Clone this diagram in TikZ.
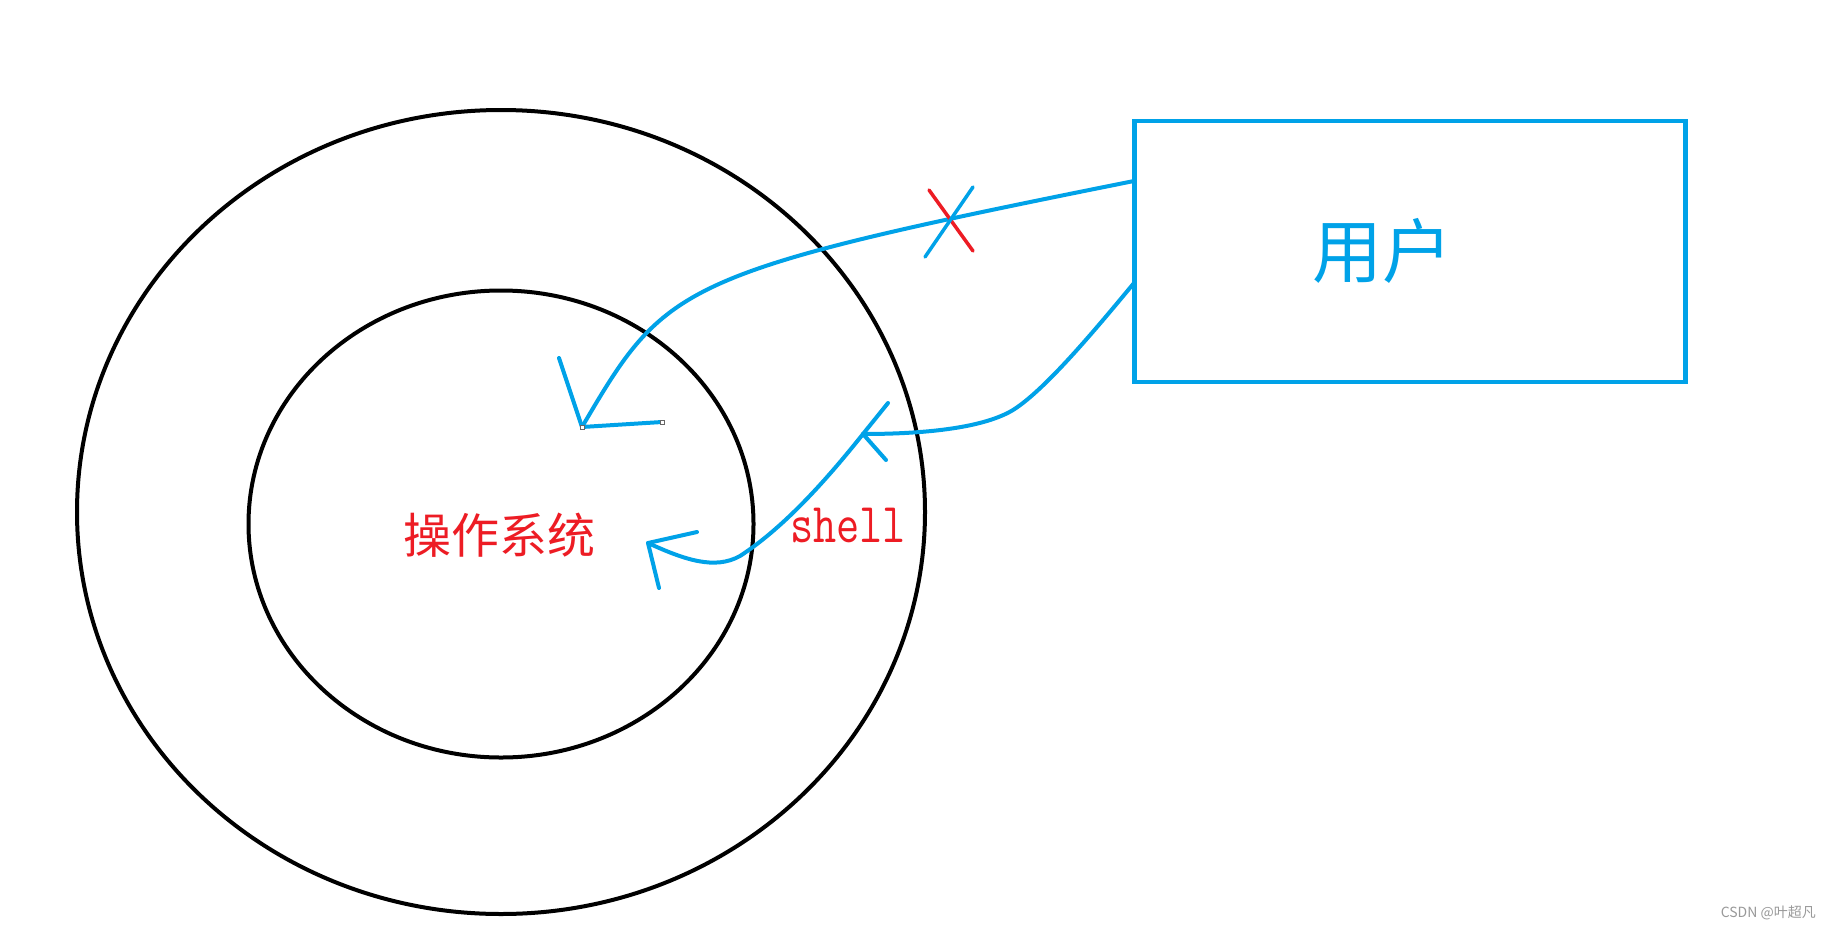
\documentclass[tikz,border=0pt]{standalone}
\usepackage{fontspec}
\newfontfamily\cjk{Noto Sans CJK SC}
\usetikzlibrary{shapes.geometric}
\definecolor{pblue}{HTML}{00A2E8}
\definecolor{pred}{HTML}{ED1C24}
\definecolor{wmgray}{HTML}{999999}
\begin{document}
\begin{tikzpicture}[x=1pt,y=-1pt,
  ring/.style={draw=black, line width=4pt, ellipse, inner sep=0pt},
  wire/.style={draw=pblue, line width=4pt, line cap=round, line join=round},
  handle/.style={draw=gray!80!black, fill=white, line width=0.8pt, minimum size=4pt, inner sep=0pt}
]
\useasboundingbox[fill=white] (0,0) rectangle (1830,929);
% rings
\node[ring, minimum width=848pt, minimum height=804pt] (outer) at (501,512) {};
\node[ring, minimum width=505pt, minimum height=467pt] (inner) at (501,524) {};
% user box
\node[draw=pblue, line width=4.5pt, minimum width=551pt, minimum height=261pt, inner sep=0pt] (user) at (1410,251.5) {};
\node[text=pblue, font=\cjk\fontsize{70}{80}\selectfont] (userlabel) at (1382,251) {用户};
% labels
\node[text=pred, font=\cjk\fontsize{48}{56}\selectfont] (os) at (499,535) {操作系统};
\node[text=pred, anchor=base west, font=\ttfamily\fontsize{45}{50}\selectfont, inner sep=0pt] (shell) at (790,542) {\scalebox{1}[1.25]{shell}};
% coordinates
\coordinate (u1) at (1134,181);
\coordinate (u2) at (1134,283);
\coordinate (t1) at (582,427);
\coordinate (t2) at (863,434);
\coordinate (t3) at (648,543);
\coordinate (m2) at (1013,410);
\coordinate (m3) at (740,556);
% upper (blocked) path
\draw[wire] (u1) .. controls (674,273) and (666,284) .. (t1);
\draw[wire] (559,358) -- (t1) -- (662,422);
\node[handle] (h1) at (t1) {};
\node[handle] (h2) at (662,422) {};
% cross mark
\draw[pred, line width=3.5pt, line cap=round] (929,190) -- (973,251);
\draw[wire, line width=3.5pt] (925,257) -- (973,187);
% lower path via shell
\draw[wire] (u2) .. controls (1095,330) and (1045,390) .. (m2) .. controls (985,427) and (930,434) .. (t2);
\draw[wire] (888,403) -- (t2) -- (886,460);
\draw[wire] (t2) .. controls (820,488) and (780,530) .. (m3) .. controls (715,570) and (685,560) .. (t3);
\draw[wire] (697,532) -- (t3) -- (659,588);
% watermark
\node[anchor=base east, text=wmgray, font=\cjk\fontsize{14}{16}\selectfont, inner sep=0pt] (wm) at (1816,917) {CSDN @叶超凡};
\end{tikzpicture}
\end{document}
